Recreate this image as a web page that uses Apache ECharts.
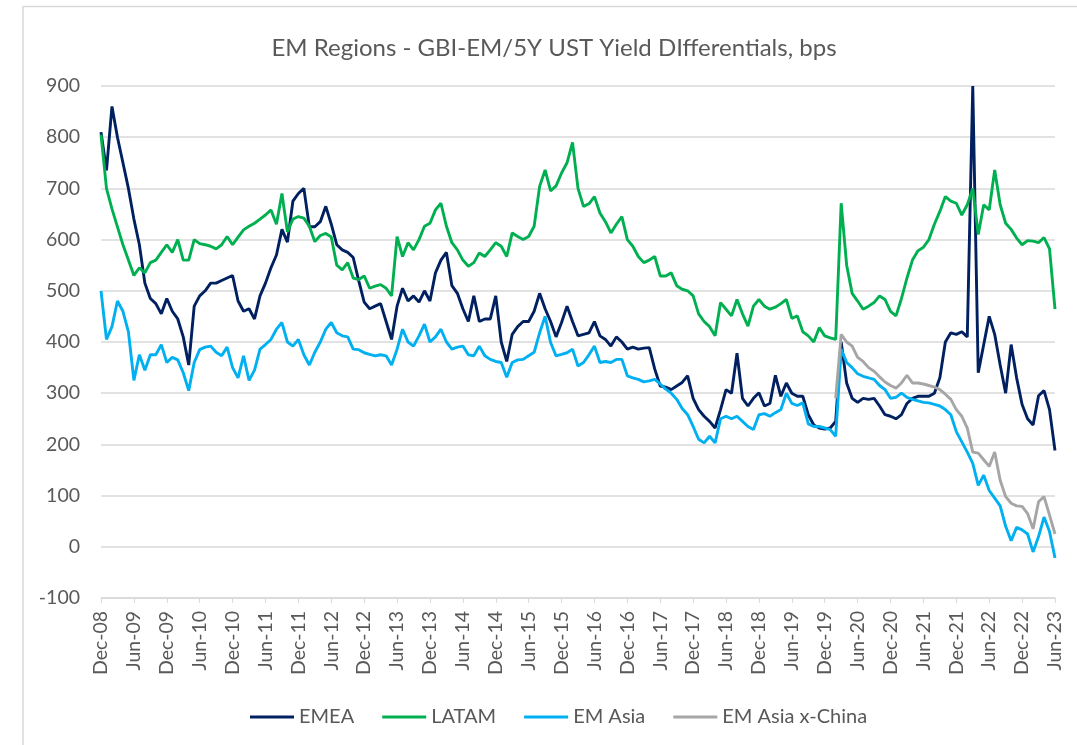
<!DOCTYPE html>
<html>
<head>
<meta charset="utf-8">
<script src="https://cdn.jsdelivr.net/npm/echarts@6/dist/echarts.min.js"></script>
<style>
  html, body { margin: 0; padding: 0; background: #fff; }
  #chart { width: 1077px; height: 745px; }
</style>
</head>
<body>
<div id="chart"></div>
<script>
// monthly categories, Dec-08 .. Jun-23
const monthNames = ['Jan', 'Feb', 'Mar', 'Apr', 'May', 'Jun', 'Jul', 'Aug', 'Sep', 'Oct', 'Nov', 'Dec'];
const categories = [];
for (let i = 0; i < 175; i++) {
    const mi = (11 + i) % 12;
    const yr = 8 + Math.floor((11 + i) / 12);
    categories.push(monthNames[mi] + '-' + String(yr).padStart(2, '0'));
}

const yTicks = [-100, 0, 100, 200, 300, 400, 500, 600, 700, 800, 900];

// bps, one value per month, first value = Dec-08
const emea = [
    810,
    735, 860, 800, 750, 700, 640, 590, 515, 485, 475, 455, 485,
    460, 445, 410, 355, 470, 490, 500, 515, 515, 520, 525, 530,
    480, 460, 465, 445, 490, 515, 545, 570, 620, 595, 675, 690,
    700, 625, 625, 635, 665, 630, 590, 580, 575, 565, 520, 478,
    465, 470, 475, 440, 405, 470, 505, 480, 490, 478, 500, 480,
    535, 560, 575, 510, 495, 465, 440, 490, 440, 445, 445, 490,
    400, 362, 415, 430, 440, 440, 460, 495, 465, 440, 410, 438,
    470, 440, 412, 415, 418, 440, 412, 405, 392, 410, 400, 386,
    390, 386, 388, 389, 347, 314, 312, 307, 314, 321, 334, 290,
    268, 255, 245, 232, 268, 307, 300, 378, 290, 275, 290, 301,
    275, 280, 335, 294, 320, 300, 294, 294, 258, 238, 232, 230,
    232, 245, 400, 320, 290, 282, 290, 288, 290, 275, 258, 255,
    250, 258, 280, 290, 294, 294, 294, 300, 330, 400, 418, 415,
    420, 410, 900, 340, 395, 450, 415, 355, 300, 395, 330, 278,
    250, 238, 295, 305, 268, 188
];

const latam = [
    805,
    700, 660, 625, 590, 560, 530, 545, 535, 555, 560, 575, 590,
    575, 600, 560, 560, 600, 592, 590, 587, 582, 590, 606, 590,
    605, 619, 626, 632, 640, 648, 658, 630, 690, 615, 640, 645,
    642, 626, 596, 608, 612, 605, 550, 541, 555, 525, 522, 529,
    505, 509, 512, 505, 490, 606, 567, 594, 580, 600, 626, 632,
    658, 671, 626, 594, 580, 560, 548, 555, 574, 567, 580, 594,
    587, 567, 613, 606, 600, 606, 626, 704, 736, 695, 705, 730,
    750, 790, 700, 665, 670, 684, 652, 635, 613, 630, 645, 600,
    587, 567, 555, 560, 567, 529, 529, 535, 510, 503, 500, 490,
    455, 440, 430, 412, 477, 464, 451, 483, 455, 431, 470, 483,
    470, 464, 468, 475, 483, 446, 451, 420, 412, 400, 428, 412,
    408, 405, 671, 550, 495, 480, 464, 470, 477, 490, 483, 460,
    451, 485, 525, 560, 578, 585, 600, 630, 655, 684, 675, 671,
    648, 668, 700, 610, 668, 658, 736, 668, 632, 620, 603, 590,
    598, 597, 594, 604, 582, 464
];

const emAsia = [
    500,
    405, 430, 480, 460, 420, 325, 375, 345, 375, 375, 395, 360,
    370, 365, 340, 305, 360, 385, 390, 392, 380, 373, 390, 350,
    330, 373, 325, 345, 386, 395, 405, 425, 438, 400, 392, 405,
    375, 355, 380, 400, 425, 438, 418, 412, 410, 386, 385, 379,
    376, 373, 375, 373, 355, 386, 425, 400, 392, 412, 435, 400,
    410, 425, 400, 386, 390, 392, 375, 373, 392, 373, 366, 362,
    360, 331, 360, 365, 366, 373, 380, 418, 450, 399, 373, 376,
    379, 386, 353, 360, 375, 392, 360, 362, 360, 366, 366, 334,
    330, 327, 322, 324, 327, 318, 308, 300, 288, 270, 258, 235,
    210, 203, 216, 203, 250, 255, 250, 255, 245, 235, 229, 258,
    260, 255, 262, 268, 300, 280, 276, 281, 240, 235, 235, 232,
    229, 216, 386, 360, 350, 338, 333, 330, 327, 315, 307, 290,
    292, 300, 292, 288, 285, 282, 281, 278, 275, 268, 258, 225,
    205, 185, 163, 120, 140, 110, 95, 80, 40, 12, 38, 33,
    25, -10, 20, 58, 30, -22
];

// series starts Feb-20
const emAsiaXChinaStart = 'Feb-20';
const emAsiaXChina = [
    290, 415, 400, 392, 370, 362, 350, 343, 332, 322, 315,
    310, 320, 335, 320, 320, 318, 315, 312, 307, 298, 288, 268,
    255, 232, 185, 183, 170, 157, 185, 130, 98, 85, 80, 79,
    65, 35, 88, 98, 62, 25
];

const seriesNames = ['EMEA', 'LATAM', 'EM Asia', 'EM Asia x-China'];
const seriesColors = ['#002060', '#00B050', '#00B0F0', '#A6A6A6'];

const offset = categories.indexOf(emAsiaXChinaStart);
const xChinaFull = new Array(offset).fill(null).concat(emAsiaXChina);

const chart = echarts.init(document.getElementById('chart'));
const font = 'Lato';
const textColor = '#595959';

function lineSeries(name, data, color) {
    return {
        name: name,
        type: 'line',
        data: data,
        showSymbol: false,
        symbol: 'none',
        lineStyle: { color: color, width: 2.9 },
        itemStyle: { color: color },
        emphasis: { disabled: true },
        animation: false
    };
}

chart.setOption({
    animation: false,
    color: seriesColors,
    title: {
        text: 'EM Regions - GBI-EM/5Y UST Yield DIfferentials, bps',
        left: 549,
        top: 31,
        textAlign: 'center',
        textStyle: { fontFamily: font, fontSize: 24, fontWeight: 'normal', color: textColor }
    },
    graphic: [{
        type: 'rect',
        silent: true,
        shape: { x: 23, y: 6.5, width: 1200, height: 1000 },
        style: { fill: 'none', stroke: '#D9D9D9', lineWidth: 1.5 }
    }],
    legend: {
        data: seriesNames,
        left: 245,
        top: 702,
        icon: 'rect',
        itemWidth: 44,
        itemHeight: 3,
        itemGap: 28,
        textStyle: { fontFamily: font, fontSize: 20, color: textColor }
    },
    grid: { left: 101, right: 22, top: 86, bottom: 147, containLabel: false },
    xAxis: {
        type: 'category',
        data: categories,
        boundaryGap: false,
        axisLine: { onZero: false, lineStyle: { color: '#D9D9D9', width: 1.5 } },
        axisTick: { show: true, interval: 5, length: 5, lineStyle: { color: '#D9D9D9' } },
        axisLabel: {
            interval: 5,
            rotate: 90,
            margin: 13,
            fontFamily: font,
            fontSize: 19.5,
            color: textColor
        },
        splitLine: { show: false }
    },
    yAxis: {
        type: 'value',
        min: yTicks[0],
        max: yTicks[yTicks.length - 1],
        interval: 100,
        axisLine: { show: false },
        axisTick: { show: false },
        axisLabel: { margin: 21, fontFamily: font, fontSize: 19.5, color: textColor },
        splitLine: { lineStyle: { color: '#D9D9D9', width: 1.5 } }
    },
    series: [
        lineSeries(seriesNames[0], emea, seriesColors[0]),
        lineSeries(seriesNames[1], latam, seriesColors[1]),
        lineSeries(seriesNames[2], emAsia, seriesColors[2]),
        lineSeries(seriesNames[3], xChinaFull, seriesColors[3])
    ]
});

window.addEventListener('resize', function () {
    chart.resize();
});
</script>
</body>
</html>
